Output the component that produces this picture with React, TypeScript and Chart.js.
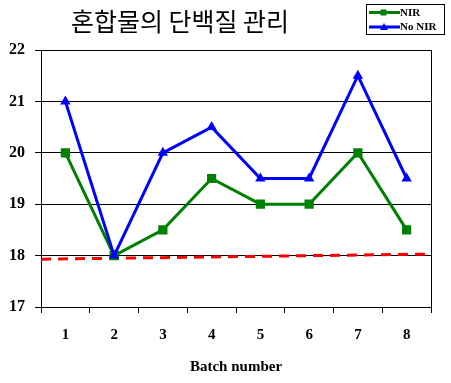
import React, { useEffect, useRef } from "react";
import { Chart, registerables } from "chart.js";
Chart.register(...registerables);

const categories = ["1", "2", "3", "4", "5", "6", "7", "8"];
const nirValues = [20, 18, 18.5, 19.5, 19, 19, 20, 18.5];
const noNirValues = [21, 18, 20, 20.5, 19.5, 19.5, 21.5, 19.5];
const trendX = [0.5, 8.5];
const trendY = [17.93, 18.03];
const yMin = 17;
const yMax = 22;
const titleText = "혼합물의 단백질 관리";
const xAxisTitle = "Batch number";
const seriesNames = ["NIR", "No NIR"];

const GREEN = "#008000";
const BLUE = "#0000FF";
const RED = "#FF0000";

const decorPlugin = {
  id: "decor",
  afterDraw(chart: any) {
    const { ctx, chartArea } = chart;
    ctx.save();
    // right border of plot
    ctx.strokeStyle = "#000";
    ctx.lineWidth = 1;
    ctx.beginPath();
    ctx.moveTo(Math.round(chartArea.right) + 0.5, chartArea.top);
    ctx.lineTo(Math.round(chartArea.right) + 0.5, chartArea.bottom);
    ctx.stroke();

    // title
    ctx.fillStyle = "#000";
    ctx.font = '25px "Noto Sans CJK KR"';
    ctx.textAlign = "center";
    ctx.textBaseline = "middle";
    ctx.fillText(titleText, 180, 21);

    // legend box
    const bx = 366.5, by = 4.5, bw = 78, bh = 30;
    ctx.fillStyle = "#fff";
    ctx.fillRect(bx, by, bw, bh);
    ctx.strokeStyle = "#000";
    ctx.lineWidth = 1;
    ctx.strokeRect(bx, by, bw, bh);
    const rows = [
      { name: seriesNames[0], color: GREEN, style: "rect", y: 12.5 },
      { name: seriesNames[1], color: BLUE, style: "triangle", y: 27 },
    ];
    rows.forEach((r) => {
      ctx.strokeStyle = r.color;
      ctx.lineWidth = 3;
      ctx.beginPath();
      ctx.moveTo(369, r.y);
      ctx.lineTo(400, r.y);
      ctx.stroke();
      ctx.fillStyle = r.color;
      if (r.style === "rect") {
        ctx.fillRect(380.5, r.y - 3, 6, 6);
      } else {
        ctx.beginPath();
        ctx.moveTo(384, r.y - 4);
        ctx.lineTo(388, r.y + 3);
        ctx.lineTo(380, r.y + 3);
        ctx.closePath();
        ctx.fill();
      }
      ctx.fillStyle = "#000";
      ctx.font = 'bold 11px "Liberation Serif"';
      ctx.textAlign = "left";
      ctx.textBaseline = "middle";
      ctx.fillText(r.name, 400, r.y + 0.5);
    });
    ctx.restore();
  },
};

export default function App() {
  const ref = useRef<HTMLCanvasElement | null>(null);
  useEffect(() => {
    if (!ref.current) return;
    const chart = new Chart(ref.current, {
      type: "line",
      data: {
        labels: categories,
        datasets: [
          {
            label: seriesNames[1],
            data: noNirValues,
            borderColor: BLUE,
            backgroundColor: BLUE,
            borderWidth: 3,
            pointStyle: "triangle",
            pointRadius: 6,
            pointBorderWidth: 0,
            tension: 0,
            order: 0,
            xAxisID: "x",
          },
          {
            label: seriesNames[0],
            data: nirValues,
            borderColor: GREEN,
            backgroundColor: GREEN,
            borderWidth: 3,
            pointStyle: "rect",
            pointRadius: 6.5,
            pointBorderWidth: 0,
            tension: 0,
            order: 1,
            xAxisID: "x",
          },
          {
            label: "trend",
            data: trendX.map((x, i) => ({ x, y: trendY[i] })),
            borderColor: RED,
            borderWidth: 3,
            borderDash: [10, 7],
            pointRadius: 0,
            order: 2,
            xAxisID: "xTrend",
          } as any,
        ],
      },
      options: {
        animation: false,
        responsive: false,
        maintainAspectRatio: false,
        layout: { padding: { left: 0, right: 20, top: 50, bottom: 0 } },
        plugins: {
          legend: { display: false },
          title: { display: false },
          tooltip: { enabled: false },
        },
        scales: {
          x: {
            type: "category",
            offset: true,
            afterFit: (s: any) => {
              s.height = 76;
            },
            grid: {
              offset: true,
              drawOnChartArea: false,
              drawTicks: true,
              tickLength: 6,
              color: "#000",
            },
            border: { display: true, color: "#000", width: 1 },
            ticks: {
              color: "#000",
              padding: 13,
              font: { family: "Liberation Serif", weight: "bold", size: 15 },
            },
            title: {
              display: true,
              text: xAxisTitle,
              color: "#000",
              padding: { top: 4, bottom: 7 },
              font: { family: "Liberation Serif", weight: "bold", size: 15 },
            },
          },
          xTrend: {
            type: "linear",
            display: false,
            min: trendX[0],
            max: trendX[1],
          },
          y: {
            min: yMin,
            max: yMax,
            afterFit: (s: any) => {
              s.width = 41;
            },
            ticks: {
              stepSize: 1,
              color: "#000",
              padding: 10,
              font: { family: "Liberation Serif", weight: "bold", size: 16 },
            },
            grid: {
              color: "#000",
              lineWidth: 1,
              drawTicks: true,
              tickLength: 6,
            },
            border: { display: true, color: "#000", width: 1 },
          },
        } as any,
      },
      plugins: [decorPlugin],
    });
    return () => chart.destroy();
  }, []);
  return (
    <div style={{ position: "fixed", left: 0, top: 0, width: 451, height: 383, background: "#fff" }}>
      <canvas ref={ref} width={451} height={383} style={{ width: 451, height: 383, display: "block" }} />
    </div>
  );
}
